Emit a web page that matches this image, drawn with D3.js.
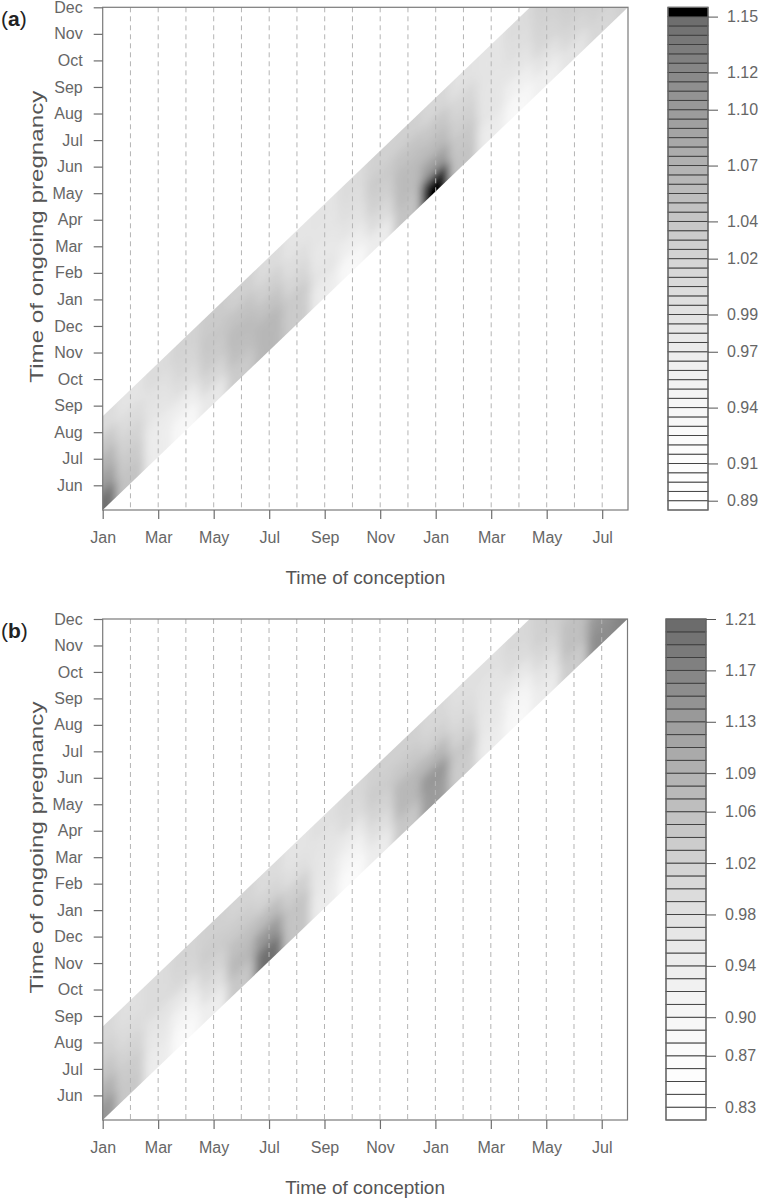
<!DOCTYPE html>
<html>
<head>
<meta charset="utf-8">
<script src="https://cdn.jsdelivr.net/npm/d3@7"></script>
<style>
  body { margin: 0; background: #fff; }
  text { font-family: "Liberation Sans", Arial, sans-serif; }
</style>
</head>
<body>
<svg id="chart" width="762" height="1199"></svg>
<script>
// months counted from 1 Jan of the first year (0 = Jan, 12 = Jan next year)
const yTickMonths = [5, 6, 7, 8, 9, 10, 11, 12, 13, 14, 15, 16, 17, 18, 19, 20, 21, 22, 23];
const yTickLabels = ["Jun", "Jul", "Aug", "Sep", "Oct", "Nov", "Dec", "Jan", "Feb", "Mar",
  "Apr", "May", "Jun", "Jul", "Aug", "Sep", "Oct", "Nov", "Dec"];
const xTickMonths = [0, 2, 4, 6, 8, 10, 12, 14, 16, 18];
const xTickLabels = ["Jan", "Mar", "May", "Jul", "Sep", "Nov", "Jan", "Mar", "May", "Jul"];
const monthLines = [1, 2, 3, 4, 5, 6, 7, 8, 9, 10, 11, 12, 13, 14, 15, 16, 17, 18];

// conception month of each grid column, lag (months after conception) of each grid row
const conceptionMonths = [0, 1, 2, 3, 4, 5, 6, 7, 8, 9, 10, 11, 12, 13, 14, 15, 16, 17, 18, 19];
const lagMonths = [4.42, 5.13, 5.84, 6.54, 7.25];
const lagRange = [4.07, 7.6];
const xRange = [0, 18.93];
const yRange = [4.07, 23];

// panel (a) estimated values, one row per lag (earliest lag first)
const valuesA = [
  [1.145, 1.046, 0.971, 0.934, 0.980, 1.033, 1.063, 1.033, 0.971, 0.934, 0.971, 1.046, 1.152, 1.046, 0.971, 0.934, 0.960, 0.989, 1.013, 1.026],
  [1.095, 1.033, 0.971, 0.965, 1.013, 1.052, 1.063, 1.033, 0.985, 0.965, 1.005, 1.057, 1.095, 1.040, 0.985, 0.960, 0.989, 1.013, 1.026, 1.033],
  [1.069, 1.020, 0.985, 0.998, 1.033, 1.057, 1.046, 1.013, 0.980, 0.989, 1.026, 1.057, 1.057, 1.026, 0.985, 0.985, 1.013, 1.026, 1.033, 1.026],
  [1.040, 1.005, 0.993, 1.013, 1.040, 1.046, 1.026, 0.998, 0.985, 0.998, 1.033, 1.046, 1.040, 1.013, 0.989, 0.998, 1.020, 1.033, 1.026, 1.020],
  [1.005, 0.989, 1.005, 1.020, 1.033, 1.026, 1.005, 0.985, 0.989, 1.005, 1.023, 1.026, 1.013, 0.993, 0.989, 1.005, 1.026, 1.026, 1.020, 1.013]
];
// panel (b)
const valuesB = [
  [1.140, 1.043, 0.944, 0.879, 0.936, 1.043, 1.200, 1.052, 0.944, 0.879, 0.944, 1.043, 1.130, 1.034, 0.944, 0.891, 0.944, 1.034, 1.155, 1.170],
  [1.093, 1.034, 0.957, 0.911, 0.983, 1.077, 1.136, 1.052, 0.957, 0.911, 0.983, 1.077, 1.140, 1.043, 0.957, 0.911, 0.970, 1.061, 1.140, 1.140],
  [1.052, 1.015, 0.970, 0.957, 1.015, 1.061, 1.069, 1.024, 0.964, 0.951, 1.015, 1.077, 1.077, 1.015, 0.964, 0.957, 1.004, 1.061, 1.077, 1.077],
  [1.024, 0.994, 0.994, 1.004, 1.034, 1.034, 1.015, 0.983, 0.970, 0.994, 1.034, 1.043, 1.024, 0.994, 0.970, 0.994, 1.024, 1.043, 1.034, 1.034],
  [1.004, 0.983, 0.994, 1.015, 1.024, 1.015, 0.994, 0.970, 0.983, 1.004, 1.024, 1.024, 1.004, 0.983, 0.983, 1.004, 1.024, 1.024, 1.015, 1.015]
];

const legendTicksA = [1.15, 1.12, 1.10, 1.07, 1.04, 1.02, 0.99, 0.97, 0.94, 0.91, 0.89];
const legendTicksB = [1.21, 1.17, 1.13, 1.09, 1.06, 1.02, 0.98, 0.94, 0.90, 0.87, 0.83];

const svg = d3.select("#chart");
const defs = svg.append("defs");

function drawPanel(opt) {
  const x = d3.scaleLinear().domain(xRange).range([opt.left, opt.right]);
  const y = d3.scaleLinear().domain(yRange).range([opt.bottom, opt.top]);

  // grey ramp used by both the field and the key
  const frac = d3.scaleLinear()
    .domain([opt.levelMin, opt.levelMin + opt.levelStep * opt.rampLevels])
    .range([0, 1]).clamp(true);
  const shade = d3.scalePow().exponent(1.8).domain([0, 1]).range([255, 105]);
  const colour = (v) => {
    if (opt.topBlack && v >= opt.levelMax - opt.levelStep) return "#000";
    const g = Math.round(shade(frac(v)));
    return d3.rgb(g, g, g).toString();
  };

  // band clip (lag between lagRange, cut by plot box)
  const band = [
    [xRange[0], xRange[0] + lagRange[0]],
    [yRange[1] - lagRange[0], yRange[1]],
    [yRange[1] - lagRange[1], yRange[1]],
    [xRange[0], xRange[0] + lagRange[1]]
  ];
  defs.append("clipPath").attr("id", "band-" + opt.id)
    .append("polygon")
    .attr("points", band.map((p) => [x(p[0]), y(p[1])].join(",")).join(" "));
  defs.append("filter").attr("id", "blur-" + opt.id)
    .attr("filterUnits", "userSpaceOnUse")
    .attr("x", 0).attr("y", opt.top - 40).attr("width", 762).attr("height", opt.bottom - opt.top + 80)
    .append("feGaussianBlur").attr("stdDeviation", 5);

  // cell edges in lag direction
  const lagEdges = [lagRange[0] - 1];
  for (let j = 1; j < lagMonths.length; j++) lagEdges.push((lagMonths[j - 1] + lagMonths[j]) / 2);
  lagEdges.push(lagRange[1] + 1);

  const cells = [];
  opt.values.forEach((row, j) => {
    row.forEach((v, i) => {
      const c = conceptionMonths[i];
      const c0 = i === 0 ? c - 1.5 : c - 0.5;
      const c1 = i === row.length - 1 ? c + 1.5 : c + 0.5;
      cells.push({ v, c0, c1, l0: lagEdges[j], l1: lagEdges[j + 1] });
    });
  });

  const field = svg.append("g").attr("clip-path", `url(#band-${opt.id})`)
    .append("g").attr("filter", `url(#blur-${opt.id})`);
  field.selectAll("polygon")
    .data(cells)
    .enter()
    .append("polygon")
    .attr("points", (d) => [
      [x(d.c0), y(d.c0 + d.l0)], [x(d.c1), y(d.c1 + d.l0)],
      [x(d.c1), y(d.c1 + d.l1)], [x(d.c0), y(d.c0 + d.l1)]
    ].map((p) => p.join(",")).join(" "))
    .attr("fill", (d) => colour(d.v))
    .attr("stroke", (d) => colour(d.v))
    .attr("stroke-width", 1);

  // month grid lines
  svg.append("g").selectAll("line")
    .data(monthLines)
    .enter()
    .append("line")
    .attr("x1", (d) => x(d)).attr("x2", (d) => x(d))
    .attr("y1", opt.top).attr("y2", opt.bottom)
    .attr("stroke", "#b4b4b4")
    .attr("stroke-width", 1)
    .attr("stroke-dasharray", "5,4");

  // box
  svg.append("rect")
    .attr("x", opt.left).attr("y", opt.top)
    .attr("width", opt.right - opt.left).attr("height", opt.bottom - opt.top)
    .attr("fill", "none").attr("stroke", "#7a7a7a").attr("stroke-width", 1.2);

  // axes
  const yAxis = svg.append("g")
    .attr("transform", `translate(${opt.left},0)`)
    .call(d3.axisLeft(y).tickValues(yTickMonths)
      .tickFormat((d, i) => yTickLabels[i]).tickSize(9).tickPadding(11));
  const xAxis = svg.append("g")
    .attr("transform", `translate(0,${opt.bottom})`)
    .call(d3.axisBottom(x).tickValues(xTickMonths)
      .tickFormat((d, i) => xTickLabels[i]).tickSize(9).tickPadding(13));
  [yAxis, xAxis].forEach((a) => {
    a.select(".domain").remove();
    a.selectAll(".tick line").attr("stroke", "#6e6e6e").attr("stroke-width", 1.2);
    a.selectAll(".tick text").attr("fill", "#666").attr("font-size", 16)
      .attr("font-family", '"Liberation Sans", Arial, sans-serif');
  });

  svg.append("text")
    .attr("x", (opt.left + opt.right) / 2).attr("y", opt.bottom + 74)
    .attr("text-anchor", "middle").attr("fill", "#555").attr("font-size", 19)
    .text("Time of conception");
  svg.append("text")
    .attr("transform", `translate(43,${(opt.top + opt.bottom) / 2 - 22}) rotate(-90)`)
    .attr("text-anchor", "middle").attr("fill", "#555").attr("font-size", 19)
    .attr("textLength", 292).attr("lengthAdjust", "spacingAndGlyphs")
    .text("Time of ongoing pregnancy");

  const tag = svg.append("text")
    .attr("x", 1).attr("y", opt.top + 19)
    .attr("fill", "#222").attr("font-size", 21);
  tag.append("tspan").text("(");
  tag.append("tspan").attr("font-weight", "bold").text(opt.id);
  tag.append("tspan").text(")");

  // key
  const k = d3.scaleLinear().domain([opt.levelMin, opt.levelMax]).range([opt.bottom, opt.top]);
  const levels = d3.range(opt.nLevels).map((i) => opt.levelMin + i * opt.levelStep);
  svg.append("g").selectAll("rect")
    .data(levels)
    .enter()
    .append("rect")
    .attr("x", opt.keyLeft)
    .attr("y", (d) => k(d + opt.levelStep))
    .attr("width", opt.keyWidth)
    .attr("height", (d) => k(d) - k(d + opt.levelStep))
    .attr("fill", (d) => colour(d + opt.levelStep / 2))
    .attr("stroke", "#3c3c3c")
    .attr("stroke-width", 0.9);
  svg.append("rect")
    .attr("x", opt.keyLeft).attr("y", opt.top)
    .attr("width", opt.keyWidth).attr("height", opt.bottom - opt.top)
    .attr("fill", "none").attr("stroke", "#6e6e6e").attr("stroke-width", 1.2);
  const keyAxis = svg.append("g")
    .attr("transform", `translate(${opt.keyLeft + opt.keyWidth},0)`)
    .call(d3.axisRight(k).tickValues(opt.ticks).tickFormat(d3.format(".2f"))
      .tickSize(10).tickPadding(9));
  keyAxis.select(".domain").remove();
  keyAxis.selectAll(".tick line").attr("stroke", "#555").attr("stroke-width", 1);
  keyAxis.selectAll(".tick text").attr("fill", "#666").attr("font-size", 16)
    .attr("font-family", '"Liberation Sans", Arial, sans-serif');
}

drawPanel({
  id: "a", values: valuesA, ticks: legendTicksA,
  left: 102.7, right: 628, top: 7.3, bottom: 510,
  keyLeft: 668, keyWidth: 40,
  levelMin: 0.885, levelMax: 1.155, levelStep: 0.005, nLevels: 54, rampLevels: 53.5, topBlack: true
});
drawPanel({
  id: "b", values: valuesB, ticks: legendTicksB,
  left: 102.7, right: 627.5, top: 619, bottom: 1120,
  keyLeft: 666, keyWidth: 40,
  levelMin: 0.82, levelMax: 1.21, levelStep: 0.01, nLevels: 39, rampLevels: 39, topBlack: false
});
</script>
</body>
</html>
